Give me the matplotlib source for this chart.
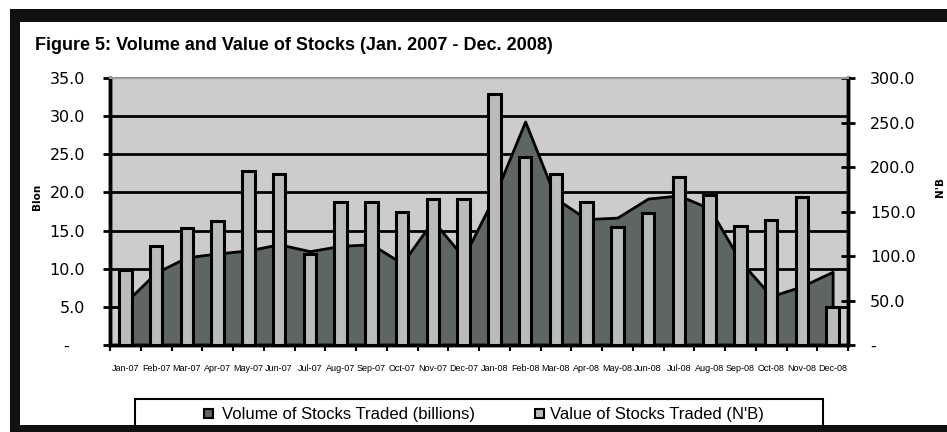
import numpy as np
import matplotlib.pyplot as plt
from matplotlib.patches import Rectangle

# monthly data, Jan 2007 - Dec 2008
months = ['Jan-07', 'Feb-07', 'Mar-07', 'Apr-07', 'May-07', 'Jun-07',
          'Jul-07', 'Aug-07', 'Sep-07', 'Oct-07', 'Nov-07', 'Dec-07',
          'Jan-08', 'Feb-08', 'Mar-08', 'Apr-08', 'May-08', 'Jun-08',
          'Jul-08', 'Aug-08', 'Sep-08', 'Oct-08', 'Nov-08', 'Dec-08']
# volume (billions) -> left axis, area
volume = [5.6, 9.5, 11.5, 12.0, 12.4, 13.2, 12.3, 13.0, 13.2, 10.7, 16.3, 11.5,
          19.5, 29.3, 19.2, 16.5, 16.7, 19.2, 19.6, 17.9, 11.0, 6.4, 7.7, 9.6]
# value (N'B) -> right axis, bars
value = [84, 111, 131, 139, 195, 192, 102, 161, 161, 150, 164, 164,
         282, 211, 192, 161, 133, 148, 189, 169, 134, 140, 166, 43]

W, H = 947, 432
fig = plt.figure(figsize=(W/100, H/100), dpi=100)
fig.patch.set_facecolor('white')

# black frame round the chart
for (x0, y0, w, h) in [(10, 9, 937, 13), (10, 9, 10, 423), (10, 425, 937, 7)]:
    fig.patches.append(Rectangle((x0/W, 1-(y0+h)/H), w/W, h/H, transform=fig.transFigure,
                                 facecolor='#111111', edgecolor='none', zorder=5))

fig.text(35/W, 1-45/H, 'Figure 5: Volume and Value of Stocks (Jan. 2007 - Dec. 2008)',
         fontsize=13, fontweight='bold', family='Liberation Sans', va='center', ha='left')

ax = fig.add_axes([110/W, 87/H, 738/W, 267/H])
ax.set_facecolor('#cccccc')
x = np.arange(len(months))

ax.set_ylim(0, 35)
ax.set_xlim(-0.5, len(months)-0.5)
ax.set_yticks(np.arange(0, 36, 5))
ax.set_yticklabels(['-   '] + ['%.1f' % v for v in np.arange(5, 36, 5)])
for v in np.arange(5, 35, 5):
    ax.axhline(v, color='black', lw=2, zorder=1)

ax.fill_between(x, volume, 0, facecolor='#5e6565', edgecolor='black', lw=2, zorder=2)

ax2 = ax.twinx()
ax2.set_ylim(0, 300)
ax2.bar(x, value, width=0.4, color='#b9bcbc', edgecolor='black', lw=2.2, zorder=3)
ax2.set_yticks(np.arange(0, 301, 50))
ax2.set_yticklabels(['-'] + ['%.1f' % v for v in np.arange(50, 301, 50)])

ax.set_xticks(x)
ax.set_xticklabels(months, fontsize=6.5, family=['Liberation Sans Narrow', 'Liberation Sans'])
ax.set_xticks(np.arange(-0.5, len(months), 1), minor=True)
ax.tick_params(axis='x', which='major', length=0, pad=14)
ax.tick_params(axis='x', which='minor', length=4, width=1.5, direction='out')
ax.tick_params(axis='y', length=5, width=2, pad=13, labelsize=11.5)
ax2.tick_params(axis='y', length=10, width=2, pad=11, labelsize=11.5, direction='inout')
for t in ax.get_yticklabels() + ax2.get_yticklabels():
    t.set_family('DejaVu Sans')

for a in (ax, ax2):
    a.spines['top'].set_color('#999999')
    a.spines['top'].set_linewidth(1.5)
    a.spines['left'].set_linewidth(2.5)
    a.spines['right'].set_linewidth(2.5)
    a.spines['bottom'].set_linewidth(2.5)

# garbled axis titles
fig.text(37/W, 1-197/H, 'Blon', rotation=90, fontsize=7.5, fontweight='bold', ha='center', va='center')
fig.text(940/W, 1-187/H, "N'B", rotation=90, fontsize=7.5, fontweight='bold', ha='center', va='center')

# legend box
fig.patches.append(Rectangle((135/W, 1-430/H), 688/W, 31/H, transform=fig.transFigure,
                             facecolor='white', edgecolor='black', lw=1.5, zorder=4))
for mx, tx, col, label in [(204, 222, '#5e6565', 'Volume of Stocks Traded (billions)'),
                           (535, 550, '#b9bcbc', "Value of Stocks Traded (N'B)")]:
    fig.patches.append(Rectangle((mx/W, 1-418/H), 9/W, 9/H, transform=fig.transFigure,
                                 facecolor=col, edgecolor='black', lw=1.5, zorder=6))
    fig.text(tx/W, 1-414/H, label, fontsize=12, family='Liberation Sans',
             va='center', ha='left', zorder=6)

fig.savefig('out.png', dpi=100)
